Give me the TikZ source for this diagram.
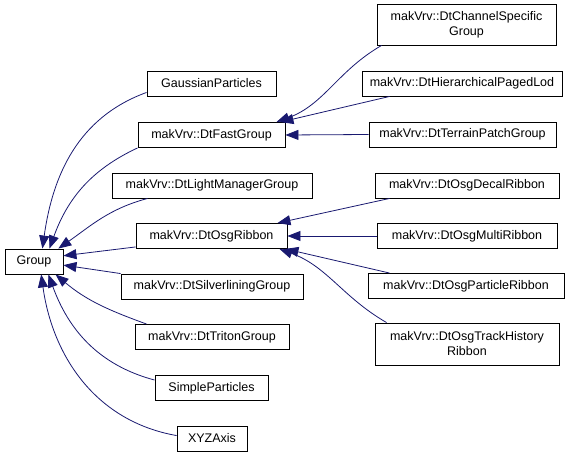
\documentclass[tikz,border=0pt]{standalone}
\usepackage{fontspec}
\setmainfont{Liberation Sans}
\usetikzlibrary{arrows.meta,calc}
\definecolor{edgeblue}{RGB}{25,25,112}
\begin{document}
\begin{tikzpicture}[x=1pt,y=1pt,
  cls/.style={draw,fill=white,inner sep=0pt,minimum height=25pt,align=center,
    line width=0.9pt,font=\fontsize{12.5}{15}\selectfont},
  inh/.style={draw=edgeblue,line width=0.8pt,-{Triangle[length=13pt,width=10pt]}}]
\useasboundingbox (0,0) rectangle (579,-457);
\node[cls,minimum width=58pt] (group) at (34,-261.5) {Group};

\node[cls,minimum width=129pt] (gauss) at (211.5,-83.5) {GaussianParticles};
\node[cls,minimum width=147pt] (fast) at (211.5,-135) {makVrv::DtFastGroup};
\node[cls,minimum width=200pt] (light) at (212,-185.5) {makVrv::DtLightManagerGroup};
\node[cls,minimum width=151pt] (ribbon) at (211.5,-236) {makVrv::DtOsgRibbon};
\node[cls,minimum width=182pt] (silver) at (212,-286.5) {makVrv::DtSilverliningGroup};
\node[cls,minimum width=154pt] (triton) at (212,-337) {makVrv::DtTritonGroup};
\node[cls,minimum width=113pt] (simple) at (211.5,-388) {SimpleParticles};
\node[cls,minimum width=70pt] (xyz) at (212,-438.5) {XYZAxis};

\node[cls,minimum width=179pt,minimum height=41pt] (channel) at (466.5,-24.5) {makVrv::DtChannelSpecific\\Group};
\node[cls,minimum width=200pt] (hier) at (462,-83.5) {makVrv::DtHierarchicalPagedLod};
\node[cls,minimum width=187pt] (terrain) at (462.5,-134.5) {makVrv::DtTerrainPatchGroup};
\node[cls,minimum width=184pt] (decal) at (467,-185.5) {makVrv::DtOsgDecalRibbon};
\node[cls,minimum width=180pt] (multi) at (467,-236) {makVrv::DtOsgMultiRibbon};
\node[cls,minimum width=196pt] (particle) at (466,-286) {makVrv::DtOsgParticleRibbon};
\node[cls,minimum width=184pt,minimum height=42pt] (track) at (467,-344) {makVrv::DtOsgTrackHistory\\Ribbon};

\draw[inh] ($(gauss.south west)+(0,4)$) to[out=200,in=82] (group.57);
\draw[inh] (fast.south west) to[out=205,in=70] (group.40);
\draw[inh] ($(light.south west)+(36,0)$) to[out=195,in=35] (group.28);
\draw[inh] ($(ribbon.south west)+(0,2)$) -- (group.11);
\draw[inh] (silver.north west) -- (group.-7);
\draw[inh] ($(triton.north west)+(12,0)$) to[out=160,in=-40] (group.-31);
\draw[inh] ($(simple.north west)+(0,-5)$) to[out=165,in=-70] (group.-42);
\draw[inh] ($(xyz.north west)+(0,-10)$) to[out=170,in=-82] (group.-61);

\draw[inh] ($(channel.south west)+(5,0)$) to[out=210,in=20] ($(fast.north east)+(-9,0)$);
\draw[inh] ($(hier.south west)+(28,0)$) -- ($(fast.north east)+(-5,0)$);
\draw[inh] (terrain.west) -- (fast.east);

\draw[inh] ($(decal.south west)+(15,0)$) -- ($(ribbon.north east)+(-10,0)$);
\draw[inh] (multi.west) -- (ribbon.east);
\draw[inh] ($(particle.north west)+(22,0)$) -- ($(ribbon.south east)+(-2,0)$);
\draw[inh] ($(track.north west)+(12,0)$) to[out=150,in=-20] ($(ribbon.south east)+(-8,0)$);
\end{tikzpicture}
\end{document}
